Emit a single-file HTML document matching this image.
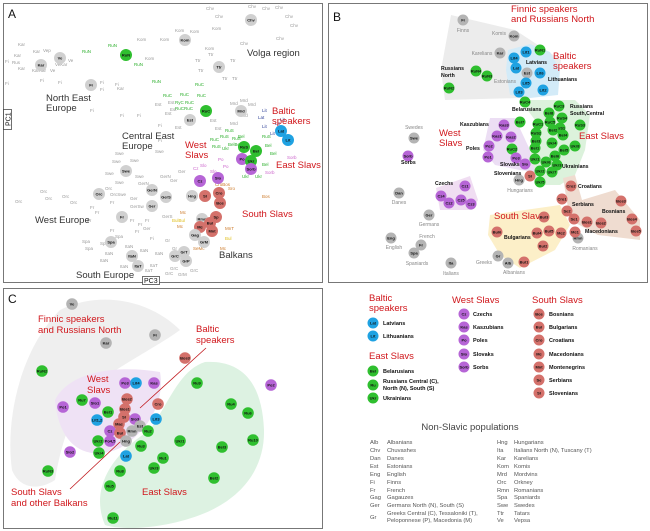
<!DOCTYPE html>
<html><head><meta charset="utf-8"><style>
html,body{margin:0;padding:0;background:#fff}
svg{display:block;font-family:"Liberation Sans",sans-serif}
.g{fill:#2fbf2f}.b{fill:#1fa2e2}.p{fill:#b665d6}.r{fill:#d4716b}.k{fill:#b4b4b4}.K{fill:#d0d0d0}
.t{font-size:4px;font-weight:bold;text-anchor:middle;dominant-baseline:central;fill:#111}
.rl{fill:#d0161b;font-size:9.5px}
.bl{fill:#333;font-size:9.5px}
.s{fill:#999;font-size:4.5px}
.sg{fill:#2fb02f;font-size:4.5px}
.lb{font-size:5.5px;font-weight:bold;fill:#111}
.lg{font-size:5.8px;fill:#555}
</style></head><body>
<svg width="650" height="531" viewBox="0 0 650 531">
<!-- frames -->
<rect x="3.5" y="3.5" width="319" height="279" fill="#fff" stroke="#777"/>
<rect x="328.5" y="3.5" width="319" height="279" fill="#fff" stroke="#777"/>
<rect x="3.5" y="288.5" width="319" height="240" fill="#fff" stroke="#777"/>

<!-- ===== PANEL A ===== -->
<text x="8" y="18" font-size="12" fill="#111">A</text>
<g class="s">
<text x="206" y="10">Chv</text><text x="248" y="8">Chv</text><text x="262" y="10">Chv</text><text x="275" y="9">Chv</text><text x="285" y="18">Chv</text><text x="290" y="27">Chv</text><text x="276" y="40">Chv</text><text x="240" y="45">Chv</text><text x="215" y="18">Chv</text><text x="212" y="30">Kom</text>
<text x="175" y="32">Kom</text><text x="190" y="33">Kom</text><text x="137" y="41">Kom</text><text x="160" y="41">Kom</text><text x="145" y="60">Kom</text><text x="205" y="50">Kom</text>
<text x="208" y="56">Ttr</text><text x="195" y="62">Ttr</text><text x="230" y="62">Ttr</text><text x="198" y="72">Ttr</text><text x="222" y="80">Ttr</text><text x="232" y="80">Ttr</text>
<text x="18" y="46">Kar</text><text x="14" y="57">Kar</text><text x="33" y="53">Kar</text><text x="43" y="52">Vep</text><text x="12" y="64">Rus</text><text x="18" y="70">Kar</text><text x="32" y="72">KarKar</text><text x="50" y="72">Ve</text><text x="68" y="62">Ve</text><text x="55" y="66">VeKar</text>
<text x="5" y="63">Fi</text><text x="5" y="85">Fi</text><text x="40" y="82">Fi</text><text x="58" y="84">Fi</text><text x="100" y="84">Fi</text><text x="100" y="91">Fi</text><text x="115" y="86">Fi</text><text x="117" y="90">Kar</text><text x="90" y="112">Fi</text><text x="120" y="117">Fi</text><text x="137" y="117">Fi</text>
<text x="155" y="106">Est</text><text x="168" y="104">Est</text><text x="165" y="115">Est</text><text x="170" y="111">Est</text><text x="158" y="127">Fi</text><text x="175" y="129">Est</text><text x="215" y="130">Est</text><text x="210" y="122">Est</text><text x="158" y="142">Fi</text><text x="155" y="153">Swe</text>
<text x="115" y="155">Swe</text><text x="112" y="163">Swe</text><text x="130" y="162">Swe</text><text x="105" y="175">Swe</text><text x="135" y="178">Swe</text><text x="138" y="185">GerN</text><text x="115" y="184">Swe</text><text x="160" y="178">GerN</text><text x="170" y="182">Ger</text><text x="178" y="173">Ger</text>
<text x="40" y="193">Orc</text><text x="62" y="198">Orc</text><text x="15" y="203">Orc</text><text x="45" y="200">Orc</text><text x="70" y="204">Orc</text><text x="105" y="190">Orc</text><text x="110" y="196">OrcSwe</text><text x="130" y="200">Ger</text><text x="110" y="204">Fr</text><text x="130" y="208">GerSw</text>
<text x="90" y="209">Fr</text><text x="95" y="214">Fr</text><text x="87" y="222">Fr</text><text x="130" y="222">Fr</text><text x="138" y="226">Fr</text><text x="135" y="233">Fr</text><text x="145" y="222">Fr</text><text x="143" y="230">Ger</text><text x="162" y="218">GerS</text>
<text x="110" y="232">Fr</text><text x="115" y="238">Spa</text><text x="100" y="245">Spa</text><text x="82" y="243">Spa</text><text x="85" y="250">Spa</text><text x="105" y="255">ItaN</text><text x="100" y="262">ItaN</text><text x="125" y="248">ItaN</text><text x="140" y="252">ItaN</text><text x="155" y="255">ItaN</text><text x="120" y="268">ItaN</text><text x="150" y="267">ItaT</text><text x="145" y="272">ItaT</text>
<text x="150" y="240">Fi</text><text x="165" y="242">Gr</text><text x="172" y="250">Gr</text><text x="170" y="270">GrC</text><text x="178" y="276">GrM</text><text x="190" y="272">GrC</text><text x="165" y="275">GrC</text>
</g>
<g class="sg">
<text x="82" y="53">RuN</text><text x="108" y="47">RuN</text><text x="134" y="66">RuN</text><text x="152" y="83">RuN</text><text x="163" y="97">RuC</text><text x="180" y="96">RuC</text><text x="195" y="86">RuC</text><text x="197" y="97">RuC</text><text x="175" y="104">RyC</text><text x="185" y="104">RuC</text><text x="175" y="110">RuCRuC</text><text x="225" y="132">RuS</text><text x="210" y="141">RuC</text><text x="220" y="138">RuS</text><text x="232" y="140">RuS</text><text x="262" y="138">RuS</text><text x="265" y="147">Bel</text><text x="270" y="155">Bel</text><text x="212" y="148">RuS</text><text x="222" y="150">Ukr</text><text x="228" y="146">BelBel</text><text x="242" y="178">Ukr</text><text x="255" y="178">Ukr</text><text x="262" y="166">Bel</text><text x="238" y="138">Bel</text>
</g>
<g font-size="4.5" fill="#cc66cc"><text x="287" y="159">Sorb</text><text x="265" y="174">Sorb</text><text x="223" y="168">Po</text><text x="218" y="161">Po</text><text x="200" y="167">Slo</text><text x="210" y="173">Slo</text><text x="193" y="170">Cz</text></g>
<g font-size="4.5" fill="#cc7a2a"><text x="215" y="186">CroBos</text><text x="228" y="190">Sro</text><text x="262" y="198">Bos</text><text x="180" y="214">Mc</text><text x="177" y="228">Mc</text><text x="220" y="250">Mc</text><text x="193" y="250">SeMc</text><text x="200" y="220">Se</text><text x="225" y="230">MnT</text></g>
<g font-size="4.5" fill="#e0c020"><text x="172" y="222">BulBul</text><text x="225" y="240">Bul</text></g>
<g font-size="4.5" fill="#334499"><text x="280" y="121">Lit</text><text x="275" y="125">Lit</text><text x="262" y="128">Lit</text><text x="270" y="135">Lit</text><text x="262" y="112">Lit</text><text x="258" y="119">Lat</text></g>
<g font-size="4.5" fill="#999"><text x="230" y="105">Mrd</text><text x="240" y="102">Mrd</text><text x="248" y="106">Mrd</text><text x="240" y="117">Mrd</text><text x="230" y="125">Mrd</text></g>
<!-- big circles A -->
<g>
<circle cx="251" cy="20" r="6" class="K"/><text x="251" y="20" class="t">Chv</text>
<circle cx="185" cy="40" r="6" class="K"/><text x="185" y="40" class="t">Kom</text>
<circle cx="126" cy="55" r="6" class="g"/><text x="126" y="55" class="t">RuN</text>
<circle cx="60" cy="58" r="6" class="K"/><text x="60" y="58" class="t">Ve</text>
<circle cx="41" cy="65" r="6" class="K"/><text x="41" y="65" class="t">Kar</text>
<circle cx="219" cy="67" r="6" class="K"/><text x="219" y="67" class="t">Ttr</text>
<circle cx="91" cy="85" r="6" class="K"/><text x="91" y="85" class="t">Fi</text>
<circle cx="206" cy="111" r="6" class="g"/><text x="206" y="111" class="t">RuC</text>
<circle cx="241" cy="111" r="6" class="K"/><text x="241" y="111" class="t">Mrd</text>
<circle cx="190" cy="120" r="6" class="K"/><text x="190" y="120" class="t">Est</text>
<circle cx="281" cy="131" r="6" class="b"/><text x="281" y="131" class="t">Lat</text>
<circle cx="288" cy="140" r="6" class="b"/><text x="288" y="140" class="t">Lit</text>
<circle cx="244" cy="147" r="6" class="g"/><text x="244" y="147" class="t">RuS</text>
<circle cx="256" cy="151" r="6" class="g"/><text x="256" y="151" class="t">Bel</text>
<circle cx="242" cy="159" r="6" class="p"/><text x="242" y="159" class="t">Po</text>
<circle cx="251" cy="161" r="6" class="g"/><text x="251" y="161" class="t">Ukr</text>
<circle cx="251" cy="169" r="6" class="p"/><text x="251" y="169" class="t">Sorb</text>
<circle cx="126" cy="171" r="6" class="K"/><text x="126" y="171" class="t">Swe</text>
<circle cx="200" cy="181" r="6" class="p"/><text x="200" y="181" class="t">Cz</text>
<circle cx="218" cy="178" r="6" class="p"/><text x="218" y="178" class="t">Slo</text>
<circle cx="152" cy="190" r="6" class="K"/><text x="152" y="190" class="t">GerN</text>
<circle cx="99" cy="194" r="6" class="K"/><text x="99" y="194" class="t">Orc</text>
<circle cx="166" cy="197" r="6" class="K"/><text x="166" y="197" class="t">GerS</text>
<circle cx="192" cy="196" r="6" class="K"/><text x="192" y="196" class="t">Hng</text>
<circle cx="219" cy="193" r="6" class="r"/><text x="219" y="193" class="t">Cro</text>
<circle cx="205" cy="196" r="6" class="r"/><text x="205" y="196" class="t">Sl</text>
<circle cx="220" cy="203" r="6" class="r"/><text x="220" y="203" class="t">Bos</text>
<circle cx="152" cy="206" r="6" class="K"/><text x="152" y="206" class="t">Ger</text>
<circle cx="122" cy="217" r="6" class="K"/><text x="122" y="217" class="t">Fr</text>
<circle cx="202" cy="219" r="6" class="K"/><text x="202" y="219" class="t">Rmn</text>
<circle cx="216" cy="217" r="6" class="r"/><text x="216" y="217" class="t">Sp</text>
<circle cx="210" cy="223" r="6" class="r"/><text x="210" y="223" class="t">Bul</text>
<circle cx="200" cy="227" r="6" class="r"/><text x="200" y="227" class="t">Mc</text>
<circle cx="212" cy="231" r="6" class="r"/><text x="212" y="231" class="t">Mnt</text>
<circle cx="195" cy="235" r="6" class="K"/><text x="195" y="235" class="t">Gag</text>
<circle cx="204" cy="242" r="6" class="K"/><text x="204" y="242" class="t">GrM</text>
<circle cx="111" cy="242" r="6" class="K"/><text x="111" y="242" class="t">Spa</text>
<circle cx="132" cy="256" r="6" class="K"/><text x="132" y="256" class="t">ItaN</text>
<circle cx="138" cy="266" r="6" class="K"/><text x="138" y="266" class="t">ItaT</text>
<circle cx="184" cy="252" r="6" class="K"/><text x="184" y="252" class="t">GrT</text>
<circle cx="175" cy="256" r="6" class="K"/><text x="175" y="256" class="t">GrC</text>
<circle cx="186" cy="261" r="6" class="K"/><text x="186" y="261" class="t">GrP</text>
</g>
<text x="247" y="56" class="bl">Volga region</text>
<text x="46" y="101" class="bl">North East</text><text x="46" y="111" class="bl">Europe</text>
<text x="122" y="139" class="bl">Central East</text><text x="122" y="149" class="bl">Europe</text>
<text x="35" y="223" class="bl">West Europe</text>
<text x="76" y="278" class="bl">South Europe</text>
<text x="219" y="258" class="bl">Balkans</text>
<text x="272" y="114" class="rl">Baltic</text><text x="272" y="124" class="rl">speakers</text>
<text x="185" y="148" class="rl">West</text><text x="185" y="158" class="rl">Slavs</text>
<text x="276" y="168" class="rl">East Slavs</text>
<text x="242" y="217" class="rl">South Slavs</text>
<rect x="3.5" y="109.5" width="8" height="20" fill="#fff" stroke="#333" stroke-width="0.7"/>
<text transform="translate(10.5,126) rotate(-90)" font-size="7" fill="#111">PC1</text>
<rect x="142.5" y="276.5" width="17" height="8" fill="#fff" stroke="#333" stroke-width="0.7"/>
<text x="144" y="283" font-size="7" fill="#111">PC3</text>

<!-- ===== PANEL B ===== -->
<text x="333" y="21" font-size="12" fill="#111">B</text>
<polygon points="451,15 515,30 561,60 555,93 520,98 445,100 441,70" fill="#ececec"/>
<polygon points="508,50 530,44 550,52 560,70 558,95 530,98 510,95 506,70" fill="#d3ebf8"/>
<polygon points="520,100 575,100 590,115 585,150 575,175 560,185 535,185 530,160 535,120" fill="#dcf2dc"/>
<polygon points="490,118 515,118 530,150 535,172 520,170 495,165 483,150" fill="#ecdef4"/>
<polygon points="436,188 470,176 478,200 472,210 440,210" fill="#f0ddf2"/>
<polygon points="490,215 560,205 570,225 555,250 520,268 500,255 488,235" fill="#fcefc8"/>
<polygon points="563,178 575,175 582,200 615,190 640,220 640,240 598,235 570,220" fill="#efdcd0"/>
<text x="511" y="12" class="rl">Finnic speakers</text><text x="511" y="22" class="rl">and Russians North</text>
<text x="553" y="59" class="rl">Baltic</text><text x="553" y="69" class="rl">speakers</text>
<text x="439" y="136" class="rl">West</text><text x="439" y="146" class="rl">Slavs</text>
<text x="579" y="139" class="rl">East Slavs</text>
<text x="494" y="219" class="rl">South Slavs</text>
<g>
<circle cx="463" cy="20" r="5.5" class="k"/><text x="463" y="20" class="t">Fi</text>
<circle cx="514" cy="36" r="5.5" class="k"/><text x="514" y="36" class="t">Kom</text>
<circle cx="500" cy="53" r="5.5" class="k"/><text x="500" y="53" class="t">Kar</text>
<circle cx="526" cy="52" r="5.5" class="b"/><text x="526" y="52" class="t">Lit1</text>
<circle cx="540" cy="50" r="5.5" class="g"/><text x="540" y="50" class="t">RuN1</text>
<circle cx="514" cy="58" r="5.5" class="b"/><text x="514" y="58" class="t">Lit4</text>
<circle cx="516" cy="68" r="5.5" class="b"/><text x="516" y="68" class="t">Lat</text>
<circle cx="527" cy="73" r="5.5" class="k"/><text x="527" y="73" class="t">Est</text>
<circle cx="540" cy="73" r="5.5" class="b"/><text x="540" y="73" class="t">Lit6</text>
<circle cx="526" cy="83" r="5.5" class="b"/><text x="526" y="83" class="t">Lit5</text>
<circle cx="519" cy="92" r="5.5" class="b"/><text x="519" y="92" class="t">Lit3</text>
<circle cx="543" cy="90" r="5.5" class="b"/><text x="543" y="90" class="t">Lit2</text>
<circle cx="476" cy="71" r="5.5" class="g"/><text x="476" y="71" class="t">RuN4</text>
<circle cx="487" cy="76" r="5.5" class="g"/><text x="487" y="76" class="t">RuN3</text>
<circle cx="449" cy="88" r="5.5" class="g"/><text x="449" y="88" class="t">RuN2</text>
<circle cx="525" cy="102" r="5.5" class="g"/><text x="525" y="102" class="t">RuC4</text>
<circle cx="559" cy="106" r="5.5" class="g"/><text x="559" y="106" class="t">RuC3</text>
<circle cx="549" cy="113" r="5.5" class="g"/><text x="549" y="113" class="t">Bel8</text>
<circle cx="562" cy="118" r="5.5" class="g"/><text x="562" y="118" class="t">RuS4</text>
<circle cx="580" cy="125" r="5.5" class="g"/><text x="580" y="125" class="t">RuS3</text>
<circle cx="520" cy="122" r="5.5" class="g"/><text x="520" y="122" class="t">Bel7</text>
<circle cx="538" cy="124" r="5.5" class="g"/><text x="538" y="124" class="t">RuC1</text>
<circle cx="550" cy="122" r="5.5" class="g"/><text x="550" y="122" class="t">RuC5</text>
<circle cx="560" cy="128" r="5.5" class="g"/><text x="560" y="128" class="t">RuS1</text>
<circle cx="553" cy="130" r="5.5" class="g"/><text x="553" y="130" class="t">Bel2</text>
<circle cx="536" cy="133" r="5.5" class="g"/><text x="536" y="133" class="t">RuS2</text>
<circle cx="563" cy="135" r="5.5" class="g"/><text x="563" y="135" class="t">Bel4</text>
<circle cx="536" cy="141" r="5.5" class="g"/><text x="536" y="141" class="t">Bel3</text>
<circle cx="552" cy="143" r="5.5" class="g"/><text x="552" y="143" class="t">Ukr4</text>
<circle cx="535" cy="148" r="5.5" class="g"/><text x="535" y="148" class="t">Bel1</text>
<circle cx="564" cy="150" r="5.5" class="g"/><text x="564" y="150" class="t">Bel5</text>
<circle cx="575" cy="146" r="5.5" class="g"/><text x="575" y="146" class="t">Ukr8</text>
<circle cx="555" cy="156" r="5.5" class="g"/><text x="555" y="156" class="t">Bel6</text>
<circle cx="535" cy="159" r="5.5" class="g"/><text x="535" y="159" class="t">Ukr1</text>
<circle cx="546" cy="162" r="5.5" class="g"/><text x="546" y="162" class="t">Ukr6</text>
<circle cx="557" cy="165" r="5.5" class="g"/><text x="557" y="165" class="t">Ukr3</text>
<circle cx="540" cy="171" r="5.5" class="g"/><text x="540" y="171" class="t">Ukr2</text>
<circle cx="552" cy="172" r="5.5" class="g"/><text x="552" y="172" class="t">Ukr7</text>
<circle cx="540" cy="182" r="5.5" class="g"/><text x="540" y="182" class="t">Ukr5</text>
<circle cx="512" cy="149" r="5.5" class="g"/><text x="512" y="149" class="t">RuC2</text>
<circle cx="504" cy="125" r="5.5" class="p"/><text x="504" y="125" class="t">Kas3</text>
<circle cx="497" cy="136" r="5.5" class="p"/><text x="497" y="136" class="t">Kas1</text>
<circle cx="511" cy="137" r="5.5" class="p"/><text x="511" y="137" class="t">Kas2</text>
<circle cx="489" cy="146" r="5.5" class="p"/><text x="489" y="146" class="t">Po2</text>
<circle cx="488" cy="157" r="5.5" class="p"/><text x="488" y="157" class="t">Po1</text>
<circle cx="516" cy="158" r="5.5" class="p"/><text x="516" y="158" class="t">Po3</text>
<circle cx="525" cy="164" r="5.5" class="p"/><text x="525" y="164" class="t">Slo</text>
<circle cx="408" cy="156" r="5.5" class="p"/><text x="408" y="156" class="t">Sorb</text>
<circle cx="465" cy="186" r="5.5" class="p"/><text x="465" y="186" class="t">Cz1</text>
<circle cx="441" cy="196" r="5.5" class="p"/><text x="441" y="196" class="t">Cz4</text>
<circle cx="449" cy="203" r="5.5" class="p"/><text x="449" y="203" class="t">Cz2</text>
<circle cx="461" cy="200" r="5.5" class="p"/><text x="461" y="200" class="t">Cz5</text>
<circle cx="471" cy="204" r="5.5" class="p"/><text x="471" y="204" class="t">Cz3</text>
<circle cx="414" cy="138" r="5.5" class="k"/><text x="414" y="138" class="t">Swe</text>
<circle cx="399" cy="193" r="5.5" class="k"/><text x="399" y="193" class="t">Dan</text>
<circle cx="429" cy="215" r="5.5" class="k"/><text x="429" y="215" class="t">Ger</text>
<circle cx="391" cy="238" r="5.5" class="k"/><text x="391" y="238" class="t">Eng</text>
<circle cx="421" cy="245" r="5.5" class="k"/><text x="421" y="245" class="t">Fr</text>
<circle cx="414" cy="253" r="5.5" class="k"/><text x="414" y="253" class="t">Spa</text>
<circle cx="451" cy="263" r="5.5" class="k"/><text x="451" y="263" class="t">Ita</text>
<circle cx="498" cy="256" r="5.5" class="k"/><text x="498" y="256" class="t">Gr</text>
<circle cx="508" cy="263" r="5.5" class="k"/><text x="508" y="263" class="t">Alb</text>
<circle cx="519" cy="180" r="5.5" class="k"/><text x="519" y="180" class="t">Hng</text>
<circle cx="530" cy="176" r="5.5" class="r"/><text x="530" y="176" class="t">Sl</text>
<circle cx="571" cy="186" r="5.5" class="r"/><text x="571" y="186" class="t">Cro2</text>
<circle cx="562" cy="199" r="5.5" class="r"/><text x="562" y="199" class="t">Cro1</text>
<circle cx="567" cy="211" r="5.5" class="r"/><text x="567" y="211" class="t">Se2</text>
<circle cx="574" cy="219" r="5.5" class="r"/><text x="574" y="219" class="t">Se1</text>
<circle cx="587" cy="222" r="5.5" class="r"/><text x="587" y="222" class="t">Bos1</text>
<circle cx="601" cy="223" r="5.5" class="r"/><text x="601" y="223" class="t">Bos2</text>
<circle cx="621" cy="201" r="5.5" class="r"/><text x="621" y="201" class="t">Bos3</text>
<circle cx="632" cy="219" r="5.5" class="r"/><text x="632" y="219" class="t">Bos4</text>
<circle cx="636" cy="231" r="5.5" class="r"/><text x="636" y="231" class="t">Bos5</text>
<circle cx="578" cy="238" r="5.5" class="k"/><text x="578" y="238" class="t">Rmn</text>
<circle cx="575" cy="232" r="5.5" class="r"/><text x="575" y="232" class="t">Mc1</text>
<circle cx="544" cy="217" r="5.5" class="r"/><text x="544" y="217" class="t">Bul3</text>
<circle cx="497" cy="232" r="5.5" class="r"/><text x="497" y="232" class="t">Bul6</text>
<circle cx="537" cy="233" r="5.5" class="r"/><text x="537" y="233" class="t">Bul4</text>
<circle cx="549" cy="231" r="5.5" class="r"/><text x="549" y="231" class="t">Bul5</text>
<circle cx="561" cy="233" r="5.5" class="r"/><text x="561" y="233" class="t">Mc2</text>
<circle cx="543" cy="246" r="5.5" class="r"/><text x="543" y="246" class="t">Bul2</text>
<circle cx="524" cy="262" r="5.5" class="r"/><text x="524" y="262" class="t">Bul1</text>
</g>
<g font-size="5" fill="#888" text-anchor="middle">
<text x="463" y="32">Finns</text><text x="499" y="35">Komis</text><text x="482" y="55">Karelians</text><text x="505" y="83">Estonians</text>
<text x="414" y="129">Swedes</text><text x="399" y="204">Danes</text><text x="429" y="226">Germans</text><text x="427" y="238">French</text><text x="394" y="249">English</text>
<text x="417" y="265">Spaniards</text><text x="451" y="275">Italians</text><text x="484" y="264">Greeks</text><text x="514" y="274">Albanians</text><text x="520" y="192">Hungarians</text><text x="585" y="250">Romanians</text>
</g>
<g font-size="5.2" font-weight="bold" fill="#111">
<text x="441" y="70">Russians</text><text x="441" y="77">North</text>
<text x="526" y="64">Latvians</text><text x="548" y="81">Lithuanians</text>
<text x="512" y="111">Belarusians</text>
<text x="570" y="108">Russians</text><text x="570" y="115">South,Central</text>
<text x="460" y="126">Kaszubians</text><text x="466" y="150">Poles</text>
<text x="500" y="166">Slovaks</text><text x="494" y="175">Slovenians</text>
<text x="562" y="168">Ukrainians</text>
<text x="401" y="164">Sorbs</text><text x="435" y="185">Czechs</text>
<text x="578" y="188">Croatians</text><text x="572" y="206">Serbians</text><text x="602" y="213">Bosnians</text>
<text x="585" y="233">Macedonians</text><text x="504" y="239">Bulgarians</text>
</g>

<!-- ===== PANEL C ===== -->
<text x="8" y="303" font-size="12" fill="#111">C</text>
<path d="M12,470 C5,420 20,350 60,310 C100,290 150,300 180,330 C160,345 120,365 95,385 C70,410 60,450 55,480 C40,490 20,490 12,470 Z" fill="#efefef"/>
<path d="M105,525 C90,490 110,455 150,430 C170,400 180,370 205,362 C240,360 262,380 264,430 C265,470 240,500 200,515 C160,530 120,530 105,525 Z" fill="#ddf2e2"/>
<path d="M55,400 C70,370 120,365 160,372 C165,400 150,430 120,448 C95,460 60,455 55,400 Z" fill="#efe2f5"/>
<g>
<circle cx="72" cy="304" r="5.8" class="k"/><text x="72" y="304" class="t">Ve</text>
<circle cx="155" cy="335" r="5.8" class="k"/><text x="155" y="335" class="t">Fi</text>
<circle cx="106" cy="343" r="5.8" class="k"/><text x="106" y="343" class="t">Kar</text>
<circle cx="185" cy="358" r="5.8" class="r"/><text x="185" y="358" class="t">Bos3</text>
<circle cx="42" cy="371" r="5.8" class="g"/><text x="42" y="371" class="t">RuN2</text>
<circle cx="125" cy="383" r="5.8" class="p"/><text x="125" y="383" class="t">Po3</text>
<circle cx="136" cy="383" r="5.8" class="b"/><text x="136" y="383" class="t">Lit4</text>
<circle cx="154" cy="383" r="5.8" class="p"/><text x="154" y="383" class="t">Kas</text>
<circle cx="197" cy="383" r="5.8" class="g"/><text x="197" y="383" class="t">Ru9</text>
<circle cx="271" cy="385" r="5.8" class="p"/><text x="271" y="385" class="t">Po2</text>
<circle cx="82" cy="400" r="5.8" class="g"/><text x="82" y="400" class="t">Ru7</text>
<circle cx="95" cy="403" r="5.8" class="p"/><text x="95" y="403" class="t">Slo1</text>
<circle cx="127" cy="399" r="5.8" class="r"/><text x="127" y="399" class="t">Bos2</text>
<circle cx="158" cy="404" r="5.8" class="r"/><text x="158" y="404" class="t">Cro</text>
<circle cx="231" cy="404" r="5.8" class="g"/><text x="231" y="404" class="t">Ru4</text>
<circle cx="63" cy="407" r="5.8" class="p"/><text x="63" y="407" class="t">Po1</text>
<circle cx="108" cy="412" r="5.8" class="g"/><text x="108" y="412" class="t">Bel1</text>
<circle cx="125" cy="409" r="5.8" class="r"/><text x="125" y="409" class="t">Bos1</text>
<circle cx="248" cy="413" r="5.8" class="g"/><text x="248" y="413" class="t">Ru6</text>
<circle cx="97" cy="420" r="5.8" class="b"/><text x="97" y="420" class="t">Lit1,2</text>
<circle cx="124" cy="417" r="5.8" class="r"/><text x="124" y="417" class="t">Sl</text>
<circle cx="135" cy="419" r="5.8" class="p"/><text x="135" y="419" class="t">Slo3</text>
<circle cx="156" cy="419" r="5.8" class="b"/><text x="156" y="419" class="t">Lit3</text>
<circle cx="119" cy="424" r="5.8" class="r"/><text x="119" y="424" class="t">Mac</text>
<circle cx="140" cy="426" r="5.8" class="k"/><text x="140" y="426" class="t">Est</text>
<circle cx="110" cy="431" r="5.8" class="p"/><text x="110" y="431" class="t">Cz</text>
<circle cx="132" cy="431" r="5.8" class="k"/><text x="132" y="431" class="t">Rmn</text>
<circle cx="120" cy="433" r="5.8" class="r"/><text x="120" y="433" class="t">Bul</text>
<circle cx="148" cy="431" r="5.8" class="g"/><text x="148" y="431" class="t">Ru2</text>
<circle cx="98" cy="441" r="5.8" class="g"/><text x="98" y="441" class="t">Ukr2</text>
<circle cx="110" cy="441" r="5.8" class="p"/><text x="110" y="441" class="t">Po4,5</text>
<circle cx="126" cy="441" r="5.8" class="k"/><text x="126" y="441" class="t">Hng</text>
<circle cx="180" cy="441" r="5.8" class="g"/><text x="180" y="441" class="t">Ukr1</text>
<circle cx="253" cy="440" r="5.8" class="g"/><text x="253" y="440" class="t">Ru10</text>
<circle cx="222" cy="447" r="5.8" class="g"/><text x="222" y="447" class="t">Bel3</text>
<circle cx="141" cy="446" r="5.8" class="g"/><text x="141" y="446" class="t">Ru3</text>
<circle cx="70" cy="452" r="5.8" class="p"/><text x="70" y="452" class="t">Slo2</text>
<circle cx="99" cy="453" r="5.8" class="g"/><text x="99" y="453" class="t">Ukr4</text>
<circle cx="126" cy="456" r="5.8" class="b"/><text x="126" y="456" class="t">Lat</text>
<circle cx="163" cy="458" r="5.8" class="g"/><text x="163" y="458" class="t">Ru1</text>
<circle cx="154" cy="468" r="5.8" class="g"/><text x="154" y="468" class="t">Ukr3</text>
<circle cx="48" cy="471" r="5.8" class="g"/><text x="48" y="471" class="t">RuN3</text>
<circle cx="120" cy="471" r="5.8" class="g"/><text x="120" y="471" class="t">Ru8</text>
<circle cx="214" cy="478" r="5.8" class="g"/><text x="214" y="478" class="t">Bel2</text>
<circle cx="110" cy="486" r="5.8" class="g"/><text x="110" y="486" class="t">Ru5</text>
<circle cx="113" cy="518" r="5.8" class="g"/><text x="113" y="518" class="t">Ru11</text>
</g>
<line x1="140" y1="408" x2="206" y2="348" stroke="#c0161b" stroke-width="0.8"/>
<line x1="70" y1="489" x2="120" y2="442" stroke="#c0161b" stroke-width="0.8"/>
<text x="38" y="322" class="rl">Finnic speakers</text><text x="38" y="333" class="rl">and Russians North</text>
<text x="196" y="332" class="rl">Baltic</text><text x="196" y="343" class="rl">speakers</text>
<text x="87" y="382" class="rl">West</text><text x="87" y="393" class="rl">Slavs</text>
<text x="142" y="495" class="rl">East Slavs</text>
<text x="11" y="495" class="rl">South Slavs</text><text x="11" y="506" class="rl">and other Balkans</text>

<!-- ===== LEGEND ===== -->
<text x="369" y="301" class="rl">Baltic</text><text x="369" y="311" class="rl">speakers</text>
<circle cx="373" cy="323" r="5.5" class="b"/><text x="373" y="323" class="t">Lat</text><text x="383" y="325" class="lb">Latvians</text>
<circle cx="373" cy="336" r="5.5" class="b"/><text x="373" y="336" class="t">Lit</text><text x="383" y="338" class="lb">Lithuanians</text>
<text x="369" y="359" class="rl">East Slavs</text>
<circle cx="373" cy="371" r="5.5" class="g"/><text x="373" y="371" class="t">Bel</text><text x="383" y="373" class="lb">Belarusians</text>
<circle cx="373" cy="385" r="5.5" class="g"/><text x="373" y="385" class="t">Ru</text><text x="383" y="383" class="lb">Russians Central (C),</text><text x="383" y="390" class="lb">North (N), South (S)</text>
<circle cx="373" cy="398" r="5.5" class="g"/><text x="373" y="398" class="t">Ukr</text><text x="383" y="400" class="lb">Ukrainians</text>

<text x="452" y="303" class="rl">West Slavs</text>
<circle cx="464" cy="314" r="5.5" class="p"/><text x="464" y="314" class="t">Cz</text><text x="473" y="316" class="lb">Czechs</text>
<circle cx="464" cy="327" r="5.5" class="p"/><text x="464" y="327" class="t">Kas</text><text x="473" y="329" class="lb">Kaszubians</text>
<circle cx="464" cy="340" r="5.5" class="p"/><text x="464" y="340" class="t">Po</text><text x="473" y="342" class="lb">Poles</text>
<circle cx="464" cy="354" r="5.5" class="p"/><text x="464" y="354" class="t">Slo</text><text x="473" y="356" class="lb">Slovaks</text>
<circle cx="464" cy="367" r="5.5" class="p"/><text x="464" y="367" class="t">Sorb</text><text x="473" y="369" class="lb">Sorbs</text>

<text x="532" y="303" class="rl">South Slavs</text>
<circle cx="539" cy="314" r="5.5" class="r"/><text x="539" y="314" class="t">Bos</text><text x="549" y="316" class="lb">Bosnians</text>
<circle cx="539" cy="327" r="5.5" class="r"/><text x="539" y="327" class="t">Bul</text><text x="549" y="329" class="lb">Bulgarians</text>
<circle cx="539" cy="340" r="5.5" class="r"/><text x="539" y="340" class="t">Cro</text><text x="549" y="342" class="lb">Croatians</text>
<circle cx="539" cy="354" r="5.5" class="r"/><text x="539" y="354" class="t">Mc</text><text x="549" y="356" class="lb">Macedonians</text>
<circle cx="539" cy="367" r="5.5" class="r"/><text x="539" y="367" class="t">Mnt</text><text x="549" y="369" class="lb">Montenegrins</text>
<circle cx="539" cy="380" r="5.5" class="r"/><text x="539" y="380" class="t">Se</text><text x="549" y="382" class="lb">Serbians</text>
<circle cx="539" cy="393" r="5.5" class="r"/><text x="539" y="393" class="t">Sl</text><text x="549" y="395" class="lb">Slovenians</text>

<text x="470" y="430" text-anchor="middle" font-size="9.5" fill="#444">Non-Slavic populations</text>
<g class="lg">
<text x="370" y="444">Alb</text><text x="387" y="444">Albanians</text>
<text x="370" y="452">Chv</text><text x="387" y="452">Chuvashes</text>
<text x="370" y="460">Dan</text><text x="387" y="460">Danes</text>
<text x="370" y="468">Est</text><text x="387" y="468">Estonians</text>
<text x="370" y="476">Eng</text><text x="387" y="476">English</text>
<text x="370" y="484">Fi</text><text x="387" y="484">Finns</text>
<text x="370" y="492">Fr</text><text x="387" y="492">French</text>
<text x="370" y="499">Gag</text><text x="387" y="499">Gagauzes</text>
<text x="370" y="507">Ger</text><text x="387" y="507">Germans North (N), South (S)</text>
<text x="370" y="519">Gr</text><text x="387" y="515">Greeks Central (C), Tessaloniki (T),</text><text x="387" y="522">Peloponnese (P), Macedonia (M)</text>
<text x="497" y="444">Hng</text><text x="514" y="444">Hungarians</text>
<text x="497" y="452">Ita</text><text x="514" y="452">Italians North (N), Tuscany (T)</text>
<text x="497" y="460">Kar</text><text x="514" y="460">Karelians</text>
<text x="497" y="468">Kom</text><text x="514" y="468">Komis</text>
<text x="497" y="476">Mrd</text><text x="514" y="476">Mordvins</text>
<text x="497" y="484">Orc</text><text x="514" y="484">Orkney</text>
<text x="497" y="492">Rmn</text><text x="514" y="492">Romanians</text>
<text x="497" y="499">Spa</text><text x="514" y="499">Spaniards</text>
<text x="497" y="507">Swe</text><text x="514" y="507">Swedes</text>
<text x="497" y="515">Ttr</text><text x="514" y="515">Tatars</text>
<text x="497" y="522">Ve</text><text x="514" y="522">Vepsa</text>
</g>
</svg>
</body></html>
